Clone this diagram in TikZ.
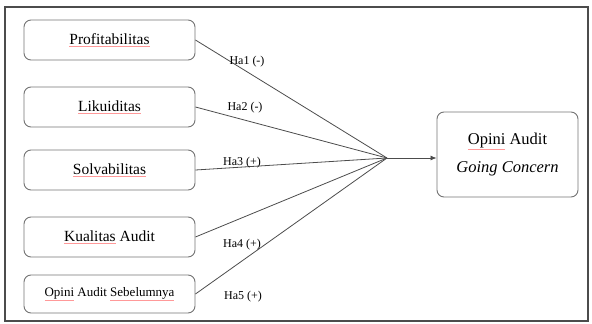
\documentclass[tikz,border=0pt]{standalone}
\usepackage{fontspec}
\setmainfont{Liberation Serif}
\usetikzlibrary{arrows.meta,positioning}
\newcommand\spellmark[1]{\textcolor{red!40}{\underline{\textcolor{black}{#1}}}}
\tikzset{
  varbox/.style={draw=black!55,line width=0.9pt,rounded corners=7pt,minimum width=171pt,minimum height=40pt,font=\fontsize{15.5}{17}\selectfont},
  hlabel/.style={font=\fontsize{12}{14}\selectfont,inner sep=1pt},
  link/.style={draw=black!70,line width=0.8pt}
}

\begin{document}
\begin{tikzpicture}[x=1pt,y=-1pt]
        \useasboundingbox (0,0) rectangle (592,324);
        \draw[black!70,line width=1.3pt] (5,7) rectangle (588,321);
        \node[varbox] (prof) at (109.5,40) {\spellmark{Profitabilitas}};
        \node[varbox] (liku) at (109.5,107) {\spellmark{Likuiditas}};
        \node[varbox] (solv) at (109.5,170) {\spellmark{Solvabilitas}};
        \node[varbox] (kual) at (109.5,237) {\spellmark{Kualitas} Audit};
        \node[varbox,minimum height=38pt,font=\fontsize{13}{14}\selectfont] (prior) at (109.5,294) {\spellmark{Opini} Audit \spellmark{Sebelumnya}};
        \node[varbox,minimum width=141pt,minimum height=85pt,align=center,font=\fontsize{16.5}{28}\selectfont] (gc) at (507.5,154.5) {\spellmark{Opini} Audit\\\textit{Going Concern}};
        \coordinate (hub) at (387,158);
        \foreach \src in {prof,liku,solv,kual,prior}
          \draw[link] (\src.east) -- (hub);
        \draw[link,-{Latex[length=6pt,width=5pt]}] (hub) -- (hub -| gc.west);
        \node[hlabel] (h1) at (247,62) {Ha1 (-)};
        \node[hlabel] (h2) at (245,108) {Ha2 (-)};
        \node[hlabel] (h3) at (242,163) {Ha3 (+)};
        \node[hlabel] (h4) at (242,245) {Ha4 (+)};
        \node[hlabel] (h5) at (243,297) {Ha5 (+)};
      \end{tikzpicture}
\end{document}
